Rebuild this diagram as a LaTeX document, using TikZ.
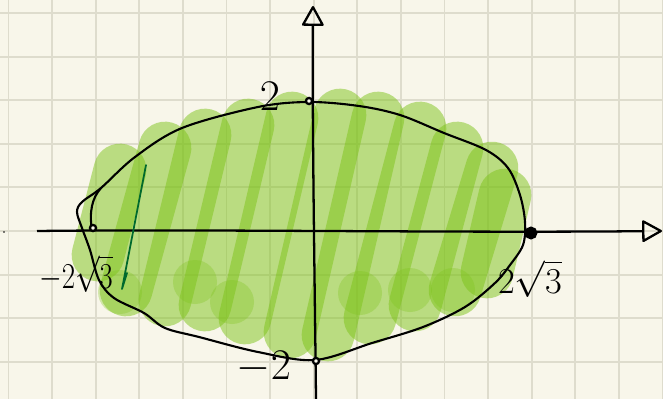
\documentclass[tikz,border=0pt]{standalone}
\usepackage{amsmath}
\usepackage{tikz}
\usetikzlibrary{arrows.meta, positioning}
\definecolor{cPaper}{RGB}{248,246,234}
\definecolor{cGrid}{RGB}{222,220,205}
\definecolor{cLeaf}{RGB}{125,195,25}
\definecolor{cPen}{RGB}{0,105,45}
\tikzset{
	gridline/.style ={draw=cGrid, line width=1.1pt},
	axisline/.style ={draw=black, line width=1.3pt, -{Triangle[open, round, length=12pt, width=13pt]}},
	curveline/.style={draw=black, line width=1.2pt, line join=round},
	blob/.style     ={draw=cLeaf, draw opacity=0.5, line width=30pt, line cap=round, line join=round},
	dotmark/.style  ={circle, draw=black, line width=1.3pt, fill=cPaper, minimum size=3.5pt, inner sep=0pt},
	lbl/.style      ={font=\fontsize{22}{26}\selectfont, inner sep=0pt},
}

\begin{document}
\begin{tikzpicture}[x=0.02cm, y=-0.02cm]
	\useasboundingbox (0,0) rectangle (663,399);
	\fill[cPaper] (0,0) rectangle (663,399);
	% grid
	\foreach \x in {0,...,15} \draw[gridline] (8.5+43.6*\x,0) -- (8.5+43.6*\x,399);
	\foreach \y in {0,...,8} \draw[gridline] (0,13+43.6*\y) -- (663,13+43.6*\y);
	% shading
	\foreach \a/\b/\c/\d in {98/255/120/170, 126/290/165/148, 165/300/205/135, 205/305/248/125,
		245/318/292/118, 290/332/340/115, 328/335/378/118, 370/318/420/128,
		415/305/457/148, 455/290/492/168, 487/272/505/195}
		\draw[blob] (\a,\b) -- (\c,\d);
	\foreach \a/\b in {120/292, 195/282, 360/293, 410/290, 453/290, 232/302}
		\fill[cLeaf, opacity=0.3] (\a,\b) circle (22);
	% axes
	\coordinate (xl) at (37,231);
	\coordinate (xr) at (662,231);
	\coordinate (yb) at (316,399);
	\coordinate (yt) at (313,6);
	\draw[axisline] (xl) .. controls (200,229) and (450,233) .. (xr);
	\draw[axisline] (yb) .. controls (315,300) and (312,120) .. (yt);
	% ellipse
	\draw[curveline] plot[smooth cycle, tension=0.55] coordinates {
		(309,102) (359,106) (400,115) (444,133) (486,150) (508,168) (520,195) (525,222)
		(523,245) (510,265) (495,283) (465,307) (423,327) (372,343) (315,360) (258,352)
		(199,337) (165,328) (144,313) (114,298) (99,280) (90,250) (82,228) (77,212)
		(82,202) (101,188) (135,157) (182,128) (258,107)};
	\draw[curveline] (101,188) .. controls (92,198) and (89,212) .. (92,230);
	% points
	\node[dotmark] (pl) at (93,228) {};
	\node[dotmark] (pt) at (309,101) {};
	\node[dotmark] (pb) at (316,361) {};
	\node[dotmark, fill=black, minimum size=6pt] (pr) at (531,233) {};
	% labels
	\node[lbl, font=\fontsize{30}{34}\selectfont] (lt) at (270,96) {$2$};
	\node[lbl, font=\fontsize{28}{32}\selectfont] (lb) at (264,367) {$-2$};
	\node[lbl, xscale=0.8] (ll) at (76,274) {$-2\sqrt{3}$};
	\node[lbl] (lr) at (530,279) {$2\sqrt{3}$};
	% pen stroke
	\coordinate (sa) at (146,165);
	\coordinate (sb) at (122,289);
	\draw[cPen, line width=1pt, line cap=round, line join=round] (sa) -- (sb) -- (127,273);
	\fill (4,232) circle (0.8);
\end{tikzpicture}
\end{document}
